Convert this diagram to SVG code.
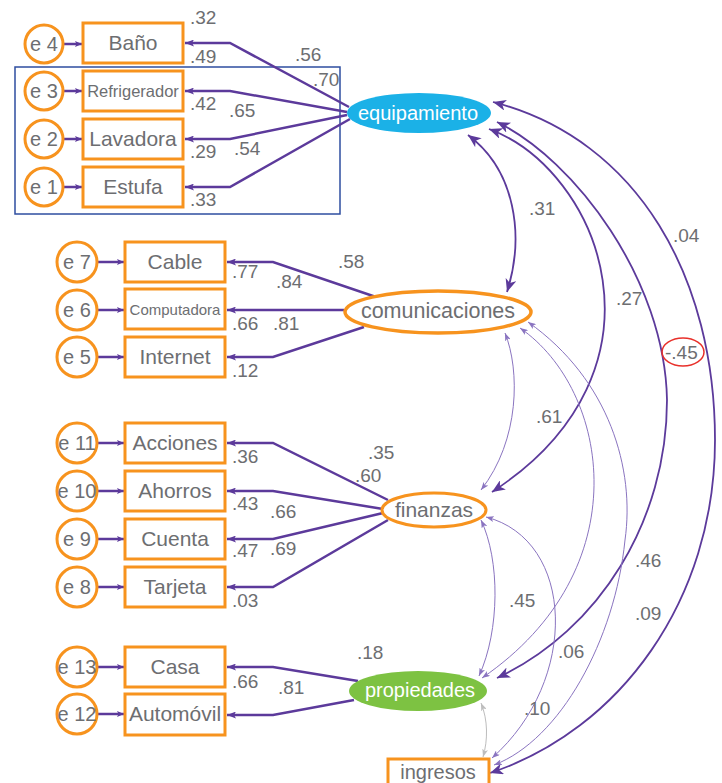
<svg xmlns="http://www.w3.org/2000/svg" width="722" height="783" viewBox="0 0 722 783">
<style>
text{font-family:"Liberation Sans",Arial,sans-serif;fill:#6d6e71}
.box{fill:#fff;stroke:#f7931e;stroke-width:3}
.err{fill:#fff;stroke:#f7931e;stroke-width:3}
.lbl{font-size:21px;text-anchor:middle}
.el{font-size:20px;text-anchor:middle}
.num{font-size:19px}
.load{fill:none;stroke:#5c3a9b;stroke-width:2.5;marker-end:url(#aL)}
.eline{fill:none;stroke:#5c3a9b;stroke-width:2.5;marker-end:url(#aS)}
.cov{fill:none;stroke:#5c3a9b;stroke-width:1.8;marker-start:url(#aC);marker-end:url(#aC)}
.thin{fill:none;stroke:#8a74c0;stroke-width:1;marker-start:url(#aT);marker-end:url(#aT)}
.gray{fill:none;stroke:#bdbdbd;stroke-width:1;marker-start:url(#aG);marker-end:url(#aG)}
</style>
<defs>
<marker id="aL" viewBox="0 0 9 7" refX="9" refY="3.5" markerWidth="9" markerHeight="7" markerUnits="userSpaceOnUse" orient="auto"><path d="M0,0 L9,3.5 L0,7 L2,3.5 z" fill="#5c3a9b"/></marker>
<marker id="aS" viewBox="0 0 7 6" refX="7" refY="3" markerWidth="7" markerHeight="6" markerUnits="userSpaceOnUse" orient="auto"><path d="M0,0 L7,3 L0,6 L1.5,3 z" fill="#5c3a9b"/></marker>
<marker id="aC" viewBox="0 0 13 11" refX="13" refY="5.5" markerWidth="13" markerHeight="11" markerUnits="userSpaceOnUse" orient="auto-start-reverse"><path d="M0,0 L13,5.5 L0,11 L3.5,5.5 z" fill="#5c3a9b"/></marker>
<marker id="aT" viewBox="0 0 8 6" refX="8" refY="3" markerWidth="8" markerHeight="6" markerUnits="userSpaceOnUse" orient="auto-start-reverse"><path d="M0,0 L8,3 L0,6 L2,3 z" fill="#8a74c0"/></marker>
<marker id="aG" viewBox="0 0 8 6" refX="8" refY="3" markerWidth="8" markerHeight="6" markerUnits="userSpaceOnUse" orient="auto-start-reverse"><path d="M0,0 L8,3 L0,6 L2,3 z" fill="#bdbdbd"/></marker>
</defs>
<rect x="0" y="0" width="722" height="783" fill="#fff"/>
<rect id="grupo" x="15" y="67" width="325" height="147" fill="none" stroke="#2e4ea0" stroke-width="1.5"/>

<g id="connectors">
<path class="eline" d="M63,44 L82,44"/>
<path class="eline" d="M63,91 L82,91"/>
<path class="eline" d="M63,139 L82,139"/>
<path class="eline" d="M63,187 L82,187"/>
<path class="eline" d="M97,262 L124,262"/>
<path class="eline" d="M97,310 L124,310"/>
<path class="eline" d="M97,357 L124,357"/>
<path class="eline" d="M97,443 L124,443"/>
<path class="eline" d="M97,491 L124,491"/>
<path class="eline" d="M97,539 L124,539"/>
<path class="eline" d="M97,587 L124,587"/>
<path class="eline" d="M97,667 L124,667"/>
<path class="eline" d="M97,714 L124,714"/>
<path class="load" d="M349,107 L230,43 L185,43"/>
<path class="load" d="M347,112 L230,91 L185,91"/>
<path class="load" d="M347,115 L230,139 L185,139"/>
<path class="load" d="M350,119 L230,187 L185,187"/>
<path class="load" d="M376,297 L273,262 L227,262"/>
<path class="load" d="M344,310 L227,310"/>
<path class="load" d="M364,327 L273,357 L227,357"/>
<path class="load" d="M388,500 L273,443 L227,443"/>
<path class="load" d="M383,509 L273,491 L227,491"/>
<path class="load" d="M383,513 L273,539 L227,539"/>
<path class="load" d="M388,520 L273,587 L227,587"/>
<path class="load" d="M358,681 L273,667 L227,667"/>
<path class="load" d="M354,700 L273,715 L227,715"/>
<path class="cov" d="M468,135 C515,170 525,235 507,292"/>
<path class="cov" d="M489,129 C600,170 680,370 492,492"/>
<path class="cov" d="M497,122 C575,160 665,280 667,400 C667,520 600,630 497,678"/>
<path class="cov" d="M493,102 C640,140 715,280 715,440 C715,600 620,730 490,773"/>
<path class="thin" d="M505,333 C520,370 520,440 481,490"/>
<path class="thin" d="M520,328 C610,390 640,570 482,678"/>
<path class="thin" d="M528,322 C610,380 635,470 625,540 C615,640 560,740 494,765"/>
<path class="thin" d="M481,520 C500,560 500,630 479,676"/>
<path class="thin" d="M486,517 C575,540 580,680 492,758"/>
<path class="gray" d="M481,703 C488,720 488,740 483,757"/>
</g>

<g id="e4"><circle class="err" cx="44" cy="44" r="19"/><text class="el" x="44" y="51">e 4</text></g>
<g id="e3"><circle class="err" cx="44" cy="91" r="19"/><text class="el" x="44" y="98">e 3</text></g>
<g id="e2"><circle class="err" cx="44" cy="139" r="19"/><text class="el" x="44" y="146">e 2</text></g>
<g id="e1"><circle class="err" cx="44" cy="187" r="19"/><text class="el" x="44" y="194">e 1</text></g>
<g id="bano"><rect class="box" x="83" y="23" width="100" height="40"/><text class="lbl" x="133" y="50">Baño</text></g>
<g id="refrigerador"><rect class="box" x="83" y="71" width="100" height="40"/><text class="lbl" x="133" y="97" style="font-size:16.5px">Refrigerador</text></g>
<g id="lavadora"><rect class="box" x="83" y="119" width="100" height="40"/><text class="lbl" x="133" y="146">Lavadora</text></g>
<g id="estufa"><rect class="box" x="83" y="167" width="100" height="40"/><text class="lbl" x="133" y="194">Estufa</text></g>

<g id="e7"><circle class="err" cx="77" cy="262" r="20"/><text class="el" x="77" y="269">e 7</text></g>
<g id="e6"><circle class="err" cx="77" cy="310" r="20"/><text class="el" x="77" y="317">e 6</text></g>
<g id="e5"><circle class="err" cx="77" cy="357" r="20"/><text class="el" x="77" y="364">e 5</text></g>
<g id="cable"><rect class="box" x="125" y="242" width="100" height="40"/><text class="lbl" x="175" y="269">Cable</text></g>
<g id="computadora"><rect class="box" x="125" y="289" width="100" height="40"/><text class="lbl" x="175" y="315" style="font-size:15px">Computadora</text></g>
<g id="internet"><rect class="box" x="125" y="337" width="100" height="40"/><text class="lbl" x="175" y="364">Internet</text></g>

<g id="e11"><circle class="err" cx="77" cy="443" r="20"/><text class="el" x="77" y="450">e 11</text></g>
<g id="e10"><circle class="err" cx="77" cy="491" r="20"/><text class="el" x="77" y="498">e 10</text></g>
<g id="e9"><circle class="err" cx="77" cy="539" r="20"/><text class="el" x="77" y="546">e 9</text></g>
<g id="e8"><circle class="err" cx="77" cy="587" r="20"/><text class="el" x="77" y="594">e 8</text></g>
<g id="acciones"><rect class="box" x="125" y="423" width="100" height="40"/><text class="lbl" x="175" y="450">Acciones</text></g>
<g id="ahorros"><rect class="box" x="125" y="471" width="100" height="40"/><text class="lbl" x="175" y="498">Ahorros</text></g>
<g id="cuenta"><rect class="box" x="125" y="519" width="100" height="40"/><text class="lbl" x="175" y="546">Cuenta</text></g>
<g id="tarjeta"><rect class="box" x="125" y="567" width="100" height="40"/><text class="lbl" x="175" y="594">Tarjeta</text></g>

<g id="e13"><circle class="err" cx="77" cy="667" r="20"/><text class="el" x="77" y="674">e 13</text></g>
<g id="e12"><circle class="err" cx="77" cy="714" r="20"/><text class="el" x="77" y="721">e 12</text></g>
<g id="casa"><rect class="box" x="125" y="647" width="100" height="40"/><text class="lbl" x="175" y="674">Casa</text></g>
<g id="automovil"><rect class="box" x="125" y="694" width="100" height="41"/><text class="lbl" x="175" y="721">Automóvil</text></g>

<g id="equipamiento"><ellipse cx="419" cy="113" rx="72" ry="20" fill="#1bb1e7"/><text x="418" y="120" style="font-size:20px;text-anchor:middle;fill:#fff">equipamiento</text></g>
<g id="comunicaciones"><ellipse cx="438" cy="312" rx="93" ry="21" fill="#fff" stroke="#f7931e" stroke-width="3.5"/><text x="438" y="318" style="font-size:21.5px;text-anchor:middle">comunicaciones</text></g>
<g id="finanzas"><ellipse cx="434" cy="510" rx="52" ry="17" fill="#fff" stroke="#f7931e" stroke-width="3"/><text x="434" y="517" style="font-size:21px;text-anchor:middle">finanzas</text></g>
<g id="propiedades"><ellipse cx="418" cy="691" rx="69" ry="20" fill="#7dc242"/><text x="420" y="697" style="font-size:20px;text-anchor:middle;fill:#fff">propiedades</text></g>
<g id="ingresos"><rect class="box" x="388" y="759" width="101" height="30"/><text x="438" y="779" style="font-size:20px;text-anchor:middle">ingresos</text></g>

<g id="labels">
<text class="num" x="190" y="24">.32</text>
<text class="num" x="190" y="63">.49</text>
<text class="num" x="295" y="61">.56</text>
<text class="num" x="313" y="86">.70</text>
<text class="num" x="190" y="110">.42</text>
<text class="num" x="229" y="117">.65</text>
<text class="num" x="190" y="158">.29</text>
<text class="num" x="234" y="155">.54</text>
<text class="num" x="190" y="206">.33</text>
<text class="num" x="529" y="215">.31</text>
<text class="num" x="673" y="242">.04</text>
<text class="num" x="338" y="268">.58</text>
<text class="num" x="232" y="278">.77</text>
<text class="num" x="276" y="288">.84</text>
<text class="num" x="232" y="330">.66</text>
<text class="num" x="273" y="330">.81</text>
<text class="num" x="232" y="377">.12</text>
<text class="num" x="616" y="305">.27</text>
<ellipse cx="683" cy="352" rx="21" ry="14" fill="none" stroke="#e8302a" stroke-width="1.5"/>
<text class="num" x="665" y="359">-.45</text>
<text class="num" x="536" y="423">.61</text>
<text class="num" x="368" y="459">.35</text>
<text class="num" x="355" y="482">.60</text>
<text class="num" x="232" y="463">.36</text>
<text class="num" x="232" y="510">.43</text>
<text class="num" x="270" y="518">.66</text>
<text class="num" x="232" y="557">.47</text>
<text class="num" x="270" y="555">.69</text>
<text class="num" x="232" y="607">.03</text>
<text class="num" x="635" y="567">.46</text>
<text class="num" x="635" y="620">.09</text>
<text class="num" x="509" y="607">.45</text>
<text class="num" x="558" y="658">.06</text>
<text class="num" x="524" y="715">.10</text>
<text class="num" x="357" y="659">.18</text>
<text class="num" x="232" y="688">.66</text>
<text class="num" x="278" y="694">.81</text>
</g>
</svg>
